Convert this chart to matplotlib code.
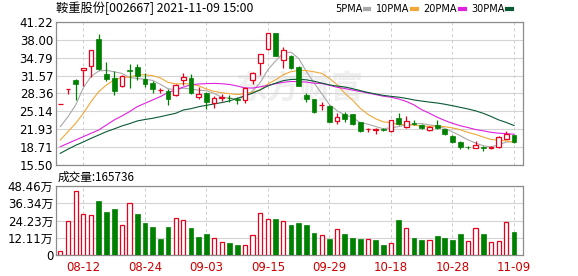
import matplotlib
matplotlib.use("Agg")
import matplotlib.pyplot as plt
from matplotlib.lines import Line2D
import numpy as np

plt.rcParams['font.family'] = ['Noto Sans CJK SC', 'DejaVu Sans']

# daily candles, 2021-08-09 .. 2021-11-09
opens = [26.45, 29.08, 30.77, 32.55, 33.29, 38.16, 31.85, 31.07, 29.60, 32.60,
         33.17, 30.89, 30.17, 28.90, 28.85, 28.00, 30.76, 31.07, 27.76, 28.48,
         26.56, 27.60, 27.60, 27.30, 27.16, 30.76, 33.80, 36.29, 39.20, 34.37,
         35.15, 33.17, 28.06, 27.28, 26.20, 26.08, 23.37, 24.64, 24.64, 23.13,
         21.85, 21.80, 21.85, 21.63, 23.85, 22.35, 23.10, 22.65, 21.75, 22.65,
         21.87, 20.73, 19.65, 18.75, 18.57, 18.65, 18.55, 18.75, 20.13, 20.80]
highs = [26.45, 29.08, 30.88, 32.90, 36.20, 39.00, 33.95, 32.45, 31.60, 33.65,
         33.60, 31.97, 30.50, 29.40, 29.10, 30.04, 31.97, 31.85, 29.56, 28.60,
         27.88, 28.30, 28.06, 27.76, 29.44, 32.20, 35.45, 39.25, 39.25, 36.77,
         35.30, 33.30, 28.36, 27.30, 26.74, 26.26, 24.76, 25.06, 24.70, 23.20,
         22.17, 22.17, 22.10, 23.60, 24.76, 24.28, 23.55, 22.80, 22.50, 23.55,
         22.00, 20.80, 19.70, 18.95, 19.77, 18.93, 18.80, 20.60, 21.57, 20.85]
lows = [26.45, 28.24, 27.17, 29.60, 31.25, 32.60, 30.50, 28.07, 29.50, 29.30,
        30.77, 29.57, 28.37, 28.50, 26.26, 27.90, 29.86, 28.30, 27.28, 25.50,
        25.66, 26.90, 26.86, 26.44, 26.56, 30.04, 31.60, 36.20, 35.10, 32.87,
        32.80, 29.60, 26.86, 24.76, 25.36, 23.20, 22.83, 23.25, 22.60, 21.33,
        21.33, 21.03, 21.50, 21.40, 22.70, 22.05, 22.60, 21.90, 21.60, 21.90,
        20.80, 19.50, 18.33, 18.40, 18.50, 17.97, 18.40, 18.60, 20.05, 19.40]
closes = [26.45, 29.08, 29.98, 32.85, 36.17, 32.69, 30.95, 28.80, 31.50, 32.45,
          31.50, 30.05, 29.09, 29.00, 27.29, 29.95, 31.25, 28.40, 28.30, 26.86,
          27.46, 27.70, 27.50, 27.20, 29.26, 32.09, 35.39, 39.18, 35.15, 36.17,
          32.99, 29.74, 27.34, 25.06, 26.30, 23.25, 24.04, 23.74, 22.77, 21.57,
          21.95, 21.88, 21.75, 23.55, 22.77, 23.37, 22.80, 22.05, 22.35, 22.05,
          20.97, 19.65, 18.63, 18.66, 19.05, 18.55, 18.62, 20.55, 21.00, 19.60]

# volume in 万手
volume = [3.0, 23.8, 45.0, 28.7, 28.0, 38.0, 30.3, 32.4, 21.0, 36.3,
          28.9, 22.6, 19.8, 11.4, 19.8, 25.9, 24.5, 19.1, 12.8, 14.9,
          11.9, 9.1, 8.6, 7.2, 7.0, 14.0, 29.4, 25.2, 25.4, 23.8,
          21.0, 22.6, 21.2, 15.6, 14.0, 11.4, 18.4, 14.9, 12.1, 11.6,
          11.4, 10.9, 7.2, 8.6, 24.7, 19.1, 12.1, 10.9, 10.9, 13.5,
          12.1, 10.9, 14.9, 10.0, 19.1, 14.9, 9.3, 10.0, 23.3, 16.57]

ma5 = [22.36, 24.16, 26.26, 29.40, 31.40, 32.40, 32.51, 32.25, 31.96, 31.24,
       31.04, 30.89, 30.70, 30.00, 29.20, 29.00, 29.30, 29.12, 28.94, 28.83,
       28.35, 27.64, 27.51, 27.36, 27.83, 28.77, 30.32, 32.65, 34.21, 35.61,
       35.78, 34.65, 32.28, 30.26, 28.29, 26.34, 25.20, 24.48, 24.02, 23.07,
       22.81, 22.38, 21.98, 22.14, 22.38, 22.66, 22.85, 22.91, 22.67, 22.52,
       22.04, 21.41, 20.73, 19.99, 19.39, 18.91, 18.70, 19.08, 19.58, 19.68]
ma10 = [19.96, 21.46, 22.96, 24.76, 26.87, 28.67, 29.87, 30.77, 31.19, 31.30,
        31.65, 31.72, 31.55, 31.15, 30.35, 30.07, 30.10, 30.05, 29.71, 29.14,
        28.72, 28.47, 28.31, 28.15, 28.33, 28.56, 28.98, 30.08, 30.79, 31.72,
        32.27, 32.48, 32.47, 32.24, 31.95, 31.06, 29.92, 28.38, 27.14, 25.68,
        24.58, 23.79, 23.23, 23.08, 22.73, 22.74, 22.62, 22.45, 22.40, 22.45,
        22.35, 22.13, 21.82, 21.33, 20.96, 20.48, 20.06, 19.91, 19.79, 19.54]
ma20 = [18.75, 19.35, 19.96, 20.56, 21.16, 21.76, 22.66, 23.56, 24.28, 25.06,
        25.96, 26.56, 27.17, 27.77, 28.49, 28.97, 29.50, 29.90, 30.05, 30.11,
        30.16, 30.09, 29.96, 29.69, 29.34, 29.31, 29.54, 29.80, 30.10, 30.35,
        30.50, 30.48, 30.39, 30.19, 30.14, 29.81, 29.45, 29.23, 28.96, 28.70,
        28.42, 28.14, 27.85, 27.66, 27.34, 26.90, 26.27, 25.41, 24.77, 24.07,
        23.47, 22.96, 22.53, 22.20, 21.84, 21.61, 21.34, 21.18, 21.10, 20.99]
ma30 = [17.55, 18.30, 19.00, 19.60, 20.26, 20.85, 21.46, 21.95, 22.48, 22.90,
        23.38, 23.65, 23.86, 24.15, 24.46, 24.76, 25.36, 25.60, 25.95, 26.20,
        26.45, 26.70, 27.00, 27.45, 27.90, 28.40, 29.00, 29.70, 30.20, 30.65,
        30.86, 30.89, 30.80, 30.54, 30.21, 29.89, 29.67, 29.50, 29.21, 28.85,
        28.52, 28.25, 28.00, 27.82, 27.67, 27.45, 27.17, 26.97, 26.78, 26.62,
        26.40, 26.13, 25.84, 25.55, 25.21, 24.76, 24.20, 23.58, 23.11, 22.56]

tick_idx = [3, 11, 19, 27, 35, 43, 51, 59]
tick_dates = ['08-12', '08-24', '09-03', '09-15', '09-29', '10-18', '10-28', '11-09']
price_ticks = [15.50, 18.71, 21.93, 25.14, 28.36, 31.57, 34.79, 38.00, 41.22]
price_labels = ['15.50', '18.71', '21.93', '25.14', '28.36', '31.57', '34.79', '38.00', '41.22']
vol_ticks = [0, 12.11, 24.23, 36.34, 48.46]
vol_labels = ['0', '12.11万', '24.23万', '36.34万', '48.46万']

RED = '#e8001c'
GREEN = '#008000'
W, H = 578, 276

fig = plt.figure(figsize=(W / 100, H / 100), dpi=100)
L, R = 56, 522.7
ax = fig.add_axes([L / W, 1 - 164.7 / H, (R - L) / W, (164.7 - 22) / H])
axv = fig.add_axes([L / W, 1 - 255.3 / H, (R - L) / W, (255.3 - 186) / H])

x = np.arange(len(closes))
o = np.array(opens); c = np.array(closes)
up = c >= o
prev = np.concatenate([[c[0] - 1], c[:-1]])
vol_up = c >= prev

# candles
ax.vlines(x, lows, highs, colors=[RED if u else GREEN for u in up], lw=0.9, zorder=3)
body_lo = np.minimum(o, c)
body_h = np.maximum(np.abs(c - o), 0.04)
ax.bar(x[up], body_h[up], bottom=body_lo[up], width=0.6, facecolor='white',
       edgecolor=RED, lw=0.9, zorder=4)
ax.bar(x[~up], body_h[~up], bottom=body_lo[~up], width=0.62, facecolor=GREEN,
       edgecolor=GREEN, lw=0.5, zorder=4)

ax.plot(x, ma5, color='#a8a8a8', lw=0.8, zorder=2)
ax.plot(x, ma10, color='#f0a838', lw=0.8, zorder=2)
ax.plot(x, ma20, color='#e020e0', lw=0.8, zorder=2)
ax.plot(x, ma30, color='#0b5a36', lw=0.8, zorder=2)

ax.text(0.52, 0.53, '东方财富', transform=ax.transAxes, fontsize=23, fontweight='bold',
        color='#efefef', ha='center', va='center', zorder=0)

# volume
v = np.array(volume)
axv.bar(x[vol_up], v[vol_up], width=0.55, facecolor='white', edgecolor=RED, lw=0.9, zorder=3)
axv.bar(x[~vol_up], v[~vol_up], width=0.62, facecolor=GREEN, edgecolor=GREEN, lw=0.5, zorder=3)

xlim = (-0.56, -0.56 + (R - L) / 7.69)
for a, yt, yl, lo, hi in [(ax, price_ticks, price_labels, 15.50, 41.22),
                          (axv, vol_ticks, vol_labels, 0, 48.46)]:
    a.set_xlim(*xlim)
    a.set_ylim(lo, hi)
    a.set_yticks(yt)
    a.set_yticklabels(yl, fontsize=8.5, family=['DejaVu Sans', 'Noto Sans CJK SC'])
    a.set_xticks(tick_idx)
    a.tick_params(length=0, pad=2)
    a.grid(axis='y', color='#d4d4d4', lw=0.8, zorder=0)
    a.grid(axis='x', color='#cccccc', lw=0.7, ls=(0, (3, 3)), zorder=0)
    for s in a.spines.values():
        s.set_color('#8c8c8c')
        s.set_linewidth(0.9)
    a.set_axisbelow(True)

ax.set_xticklabels([])
axv.set_xticklabels(tick_dates, fontsize=8.5, color='#cc0000', family='DejaVu Sans')
axv.tick_params(axis='x', pad=4)

fig.text(L / W, 1 - 8.5 / H, '鞍重股份[002667] 2021-11-09 15:00', fontsize=8.8,
         ha='left', va='center')
fig.text(58 / W, 1 - 177.5 / H, '成交量:165736', fontsize=8.4, ha='left', va='center')

handles = [Line2D([], [], color=col, lw=3) for col in ['#a8a8a8', '#f0a838', '#e020e0', '#0b5a36']]
fig.legend(handles, ['5PMA', '10PMA', '20PMA', '30PMA'], loc='center right',
           bbox_to_anchor=(512 / W, 1 - 9 / H), ncol=4, frameon=False, markerfirst=False,
           handlelength=0.5, handletextpad=0.25, columnspacing=0.7, borderpad=0,
           borderaxespad=0, prop={'family': 'DejaVu Sans', 'size': 7})

fig.savefig('out.png', dpi=100, facecolor='white')
